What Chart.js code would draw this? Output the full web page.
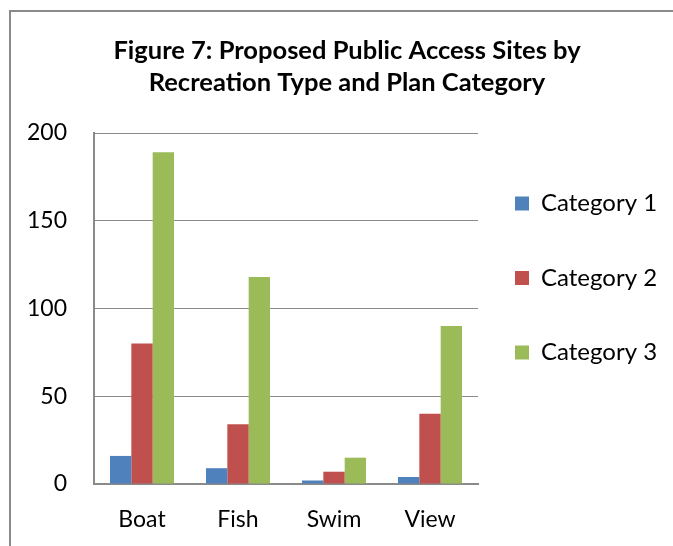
<!DOCTYPE html>
<html>
<head>
<meta charset="utf-8">
<script src="https://cdn.jsdelivr.net/npm/chart.js@4.4.1/dist/chart.umd.min.js"></script>
<style>
  html, body { margin: 0; padding: 0; background: #fff; }
  #wrap { position: relative; width: 673px; height: 546px; overflow: hidden; }
  #frame { position: absolute; left: 9px; top: 10px; width: 700px; height: 600px;
           border-left: 2px solid #8a8a8a; border-top: 2px solid #8a8a8a; box-sizing: border-box; }
  canvas { position: absolute; left: 0; top: 0; }
</style>
</head>
<body>
<div id="wrap">
  <div id="frame"></div>
  <canvas id="c" width="673" height="546"></canvas>
</div>
<script>
const titleLines = ['Figure 7: Proposed Public Access Sites by', 'Recreation Type and Plan Category'];
const categories = ['Boat', 'Fish', 'Swim', 'View'];
const seriesNames = ['Category 1', 'Category 2', 'Category 3'];
const category1 = [16, 9, 2, 4];
const category2 = [80, 34, 7, 40];
const category3 = [189, 118, 15, 90];
const yTicks = [0, 50, 100, 150, 200];

const colors = ['#4F81BD', '#C0504D', '#9BBB59'];
const FONT = 'Lato, "Open Sans", sans-serif';

const legendShift = {
  id: 'legendShift',
  afterLayout(chart) {
    const lg = chart.legend;
    const pad = lg.options.labels.padding;
    const boxX = chart.chartArea.right + 37;
    lg.left = boxX - pad;
    lg.right = 673;
    lg.width = lg.right - lg.left;
    lg.top += 5;
    lg.bottom += 5;
  }
};

new Chart(document.getElementById('c'), {
  type: 'bar',
  data: {
    labels: categories,
    datasets: [
      { label: seriesNames[0], data: category1, backgroundColor: colors[0] },
      { label: seriesNames[1], data: category2, backgroundColor: colors[1] },
      { label: seriesNames[2], data: category3, backgroundColor: colors[2] }
    ]
  },
  options: {
    responsive: false,
    animation: false,
    devicePixelRatio: 1,
    layout: { padding: { left: 21, right: 0, top: 0, bottom: 0 } },
    datasets: { bar: { categoryPercentage: 0.667, barPercentage: 1.0, borderWidth: 0 } },
    plugins: {
      title: {
        display: true,
        text: titleLines,
        color: '#000',
        font: { family: FONT, size: 25.5, weight: 'bold', lineHeight: 1.255 },
        padding: { top: 35, bottom: 34 }
      },
      legend: {
        position: 'right',
        align: 'center',
        maxWidth: 195,
        labels: {
          color: '#000',
          font: { family: FONT, size: 24 },
          boxWidth: 14,
          boxHeight: 14,
          padding: 50.5
        }
      },
      tooltip: { enabled: false }
    },
    scales: {
      x: {
        grid: { display: false, drawTicks: false },
        border: { display: true, color: '#8a8a8a', width: 2 },
        ticks: { color: '#000', font: { family: FONT, size: 23 }, padding: 22 },
        afterFit(scale) { scale.height = 62; }
      },
      y: {
        min: 0,
        max: 200,
        afterBuildTicks(scale) { scale.ticks = yTicks.map(v => ({ value: v })); },
        grid: { color: '#8a8a8a', lineWidth: 1, drawTicks: false },
        border: { display: true, color: '#8a8a8a', width: 2 },
        ticks: { color: '#000', font: { family: FONT, size: 23 }, padding: 27 },
        afterFit(scale) { scale.width = 73; }
      }
    }
  },
  plugins: [legendShift]
});
</script>
</body>
</html>
